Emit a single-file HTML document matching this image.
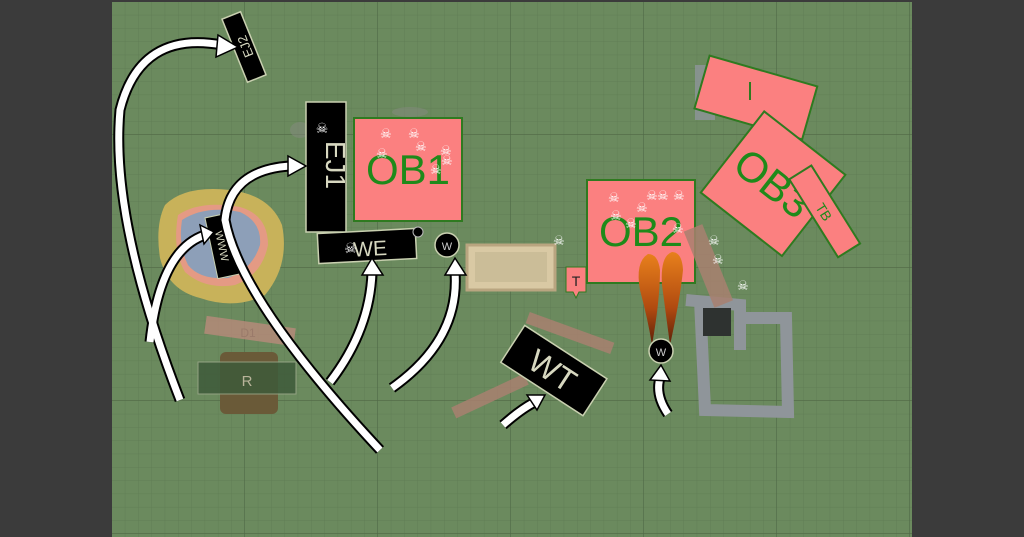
<!DOCTYPE html>
<html><head><style>
html,body{margin:0;padding:0;background:#3b3b3b;width:1024px;height:537px;overflow:hidden}
svg{display:block}
text{font-family:"Liberation Sans",sans-serif}
</style></head><body>
<svg width="1024" height="537" viewBox="0 0 1024 537" xmlns="http://www.w3.org/2000/svg">
<defs>
<pattern id="minor" x="112" y="2" width="13.3" height="13.3" patternUnits="userSpaceOnUse">
<path d="M13.3 0V13.3H0" fill="none" stroke="#5d7a52" stroke-width="0.7"/>
</pattern>
<pattern id="major" x="112" y="2" width="133" height="133" patternUnits="userSpaceOnUse">
<path d="M133 0V133H0" fill="none" stroke="#4f6845" stroke-width="1.2"/>
</pattern>
<linearGradient id="fire" x1="0" y1="0" x2="0" y2="1">
<stop offset="0" stop-color="#e8801c"/><stop offset="0.6" stop-color="#b04a10"/><stop offset="1" stop-color="#5a2008"/>
</linearGradient>
</defs>
<rect x="0" y="0" width="1024" height="537" fill="#3b3b3b"/>
<rect x="112" y="2" width="800" height="535" fill="#6b8a5e"/>
<rect x="112" y="2" width="800" height="535" fill="url(#minor)"/>
<rect x="112" y="2" width="800" height="535" fill="url(#major)"/>

<path d="M165 205 Q185 185 230 190 Q270 195 282 225 Q290 265 265 295 Q235 310 200 298 Q168 290 160 258 Q155 225 165 205Z" fill="#c8b25a"/>
<path d="M178 215 Q200 200 240 207 Q268 215 268 245 Q262 275 235 285 Q205 290 185 272 Q172 250 178 215Z" fill="#e49a84"/>
<path d="M182 220 Q205 205 240 212 Q262 222 260 245 Q252 270 228 278 Q200 280 188 265 Q178 245 182 220Z" fill="#8d9fb8"/>
<rect x="220" y="352" width="58" height="62" rx="6" fill="#6a5a38"/>
<rect x="198" y="362" width="98" height="32" fill="#3e5a3a" stroke="#9aa88a" stroke-width="1" opacity="0.85"/>
<text x="247" y="386" font-size="15" fill="#b9b49a" text-anchor="middle">R</text>
<rect x="205" y="322" width="90" height="18" fill="#b98a7a" opacity="0.8" transform="rotate(8 250 331)"/>
<text x="248" y="337" font-size="12" fill="#9a7a6a" text-anchor="middle">D1</text>
<ellipse cx="300" cy="130" rx="10" ry="8" fill="#858a80" opacity="0.5"/>
<ellipse cx="410" cy="112" rx="18" ry="5" fill="#858a80" opacity="0.5"/>

<g transform="rotate(68 244 47)"><rect x="210" y="37" width="68" height="20" fill="#000" stroke="#c9d0b0" stroke-width="1.5"/>
<text x="244" y="53" font-size="13" fill="#d7d8c0" text-anchor="middle" transform="rotate(180 244 47)">EJ2</text></g>

<rect x="306" y="102" width="40" height="130" fill="#000" stroke="#c9d0b0" stroke-width="1.5"/>
<text x="326" y="165" font-size="28" fill="#d7d8c0" text-anchor="middle" transform="rotate(90 326 165)">EJ1</text>
<text x="322" y="133" font-size="14" fill="#fff" text-anchor="middle">☠</text>

<rect x="354" y="118" width="108" height="103" fill="#fb8080" stroke="#2f7a20" stroke-width="2"/>
<text x="408" y="184" font-size="42" fill="#1f8a1a" text-anchor="middle">OB1</text>
<g font-size="13" fill="#fff"><text x="380" y="138">☠</text><text x="408" y="138">☠</text><text x="415" y="151">☠</text><text x="376" y="158">☠</text><text x="440" y="155">☠</text><text x="441" y="165">☠</text><text x="430" y="174">☠</text></g>

<g transform="rotate(-3 367 246)"><rect x="318" y="231" width="98" height="30" fill="#000" stroke="#c9d0b0" stroke-width="1.5"/>
<text x="370" y="256" font-size="21" fill="#d7d8c0" text-anchor="middle">WE</text>
<text x="344" y="252" font-size="14" fill="#fff">☠</text></g>
<circle cx="418" cy="232" r="5" fill="#000" stroke="#bbb"/>

<circle cx="447" cy="245" r="12" fill="#000" stroke="#c9d0b0" stroke-width="1.5"/>
<text x="447" y="250" font-size="11" fill="#ccc" text-anchor="middle">W</text>

<rect x="467" y="245" width="88" height="45" fill="#d9c9a4" stroke="#b9a580" stroke-width="3"/>
<rect x="475" y="252" width="72" height="30" fill="#cbbd98"/>
<text x="553" y="245" font-size="13" fill="#fff">☠</text>
<path d="M566 267H586V292H579L576 298L573 292H566Z" fill="#fb8080" stroke="#2f7a20"/>
<text x="576" y="286" font-size="14" fill="#222" text-anchor="middle">T</text>

<rect x="587" y="180" width="108" height="103" fill="#fb8080" stroke="#2f7a20" stroke-width="2"/>
<text x="641" y="246" font-size="42" fill="#1f8a1a" text-anchor="middle">OB2</text>
<g font-size="13" fill="#fff"><text x="608" y="202">☠</text><text x="646" y="200">☠</text><text x="657" y="200">☠</text><text x="673" y="200">☠</text><text x="636" y="212">☠</text><text x="610" y="220">☠</text><text x="625" y="228">☠</text><text x="672" y="233">☠</text></g>

<path d="M648 254 Q635 262 640 290 Q648 320 652 345 Q660 300 660 270 Q658 254 648 254Z" fill="url(#fire)"/>
<path d="M672 252 Q660 256 662 285 Q666 315 670 345 Q680 300 683 270 Q682 252 672 252Z" fill="url(#fire)"/>
<circle cx="661" cy="351" r="12" fill="#000" stroke="#c9d0b0" stroke-width="1.5"/>
<text x="661" y="356" font-size="11" fill="#ccc" text-anchor="middle">W</text>

<g fill="none" stroke="#8f959a" stroke-width="12">
<path d="M686 300 L740 305 L740 350 M700 300 L705 410 L788 412 L786 318 L740 318"/>
</g>
<rect x="703" y="308" width="28" height="28" fill="#2e3230"/>
<rect x="695" y="65" width="20" height="55" fill="#8f959a" opacity="0.8"/>

<rect x="698" y="225" width="20" height="82" fill="#a88070" opacity="0.85" transform="rotate(-22 708 265)"/>
<g font-size="13" fill="#fff"><text x="708" y="245">☠</text><text x="712" y="264">☠</text><text x="737" y="290">☠</text></g>

<rect x="700" y="70" width="112" height="55" fill="#fb8080" stroke="#2f7a20" stroke-width="2" transform="rotate(16 756 97)"/>
<path d="M750 82 V100" stroke="#2f7a20" stroke-width="2"/>
<g transform="rotate(38 773 183)"><rect x="722" y="132" width="103" height="103" fill="#fb8080" stroke="#2f7a20" stroke-width="2"/>
<text x="773" y="198" font-size="42" fill="#1f8a1a" text-anchor="middle">OB3</text></g>
<g transform="rotate(58 825 210)"><rect x="780" y="198" width="92" height="26" fill="#fb8080" stroke="#2f7a20" stroke-width="2"/>
<text x="826" y="217" font-size="14" fill="#1f8a1a" text-anchor="middle">TB</text></g>

<g transform="rotate(-12 222 245)"><rect x="211" y="215" width="22" height="62" fill="#000" stroke="#c9d0b0" stroke-width="1"/>
<text x="222" y="250" font-size="11" fill="#d7d8c0" text-anchor="middle" transform="rotate(90 222 246)">WWW</text></g>

<rect x="525" y="327" width="90" height="12" fill="#a88070" opacity="0.85" transform="rotate(20 570 333)"/>
<rect x="450" y="390" width="80" height="12" fill="#a88070" opacity="0.85" transform="rotate(-25 490 396)"/>
<g transform="rotate(33 553 370)"><rect x="505" y="348" width="98" height="44" fill="#000" stroke="#c9d0b0" stroke-width="1.5"/>
<text x="553" y="382" font-size="32" fill="#d7d8c0" text-anchor="middle">WT</text></g>

<g fill="none" stroke-linecap="butt">
<g stroke="#000" stroke-width="11">
<path d="M180 400 Q110 220 120 110 Q140 30 222 45"/>
<path d="M380 450 Q240 300 225 220 Q230 170 290 166"/>
<path d="M150 342 Q160 250 205 235"/>
<path d="M330 382 Q370 330 372 272"/>
<path d="M392 388 Q460 340 455 272"/>
<path d="M503 425 Q520 410 533 403"/>
<path d="M668 414 Q655 395 660 378"/>
</g>
<g stroke="#fff" stroke-width="7">
<path d="M180 400 Q110 220 120 110 Q140 30 222 45"/>
<path d="M380 450 Q240 300 225 220 Q230 170 290 166"/>
<path d="M150 342 Q160 250 205 235"/>
<path d="M330 382 Q370 330 372 272"/>
<path d="M392 388 Q460 340 455 272"/>
<path d="M503 425 Q520 410 533 403"/>
<path d="M668 414 Q655 395 660 378"/>
</g>
</g>
<g fill="#fff" stroke="#000" stroke-width="1.5">
<path d="M218 35 L238 47 L216 57 Z"/>
<path d="M288 156 L306 166 L288 176 Z"/>
<path d="M200 225 L214 232 L204 244 Z"/>
<path d="M362 275 L372 258 L383 275 Z"/>
<path d="M445 275 L455 258 L466 275 Z"/>
<path d="M527 395 L545 395 L537 410 Z"/>
<path d="M650 380 L661 365 L670 381 Z"/>
</g>
</svg>
</body></html>
